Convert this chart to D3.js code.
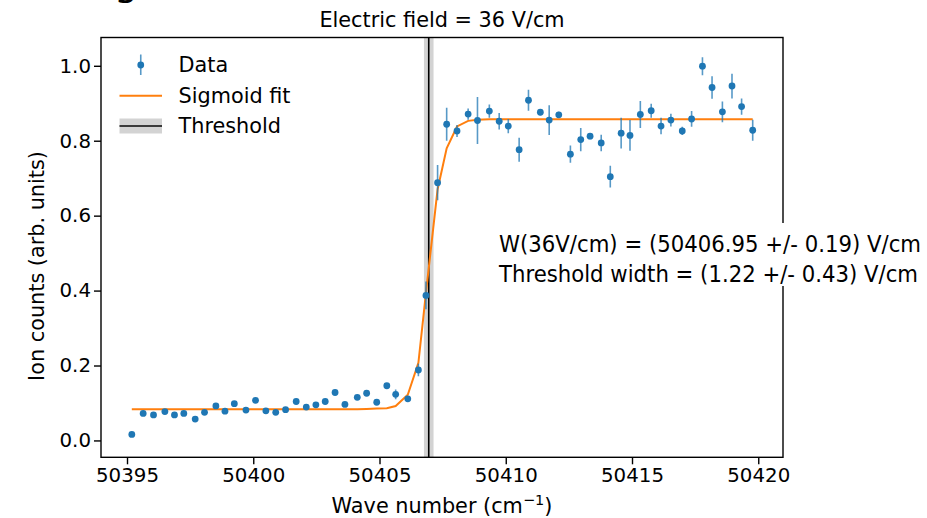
<!DOCTYPE html>
<html>
<head>
<meta charset="utf-8">
<script src="https://cdn.jsdelivr.net/npm/d3@7"></script>
<style>
  body { margin: 0; background: #fff; }
  svg text { font-family: "DejaVu Sans", sans-serif; }
</style>
</head>
<body>
<svg id="chart" width="927" height="518"></svg>
<script>
// Measured ion signal versus laser wave number
const waveNumbers = [
  50395.19, 50395.64, 50396.05, 50396.50, 50396.88, 50397.25, 50397.70, 50398.07,
  50398.52, 50398.88, 50399.25, 50399.71, 50400.09, 50400.50, 50400.89, 50401.28,
  50401.70, 50402.10, 50402.48, 50402.85, 50403.24, 50403.63, 50404.12, 50404.49,
  50404.89, 50405.29, 50405.64, 50406.12, 50406.54, 50406.84, 50407.30, 50407.66,
  50408.07, 50408.51, 50408.88, 50409.35, 50409.74, 50410.10, 50410.53, 50410.90,
  50411.37, 50411.72, 50412.10, 50412.56, 50412.97, 50413.34, 50413.78, 50414.14,
  50414.57, 50414.92, 50415.33, 50415.76, 50416.15, 50416.54, 50416.99, 50417.36,
  50417.79, 50418.17, 50418.58, 50418.96, 50419.34, 50419.78
];
const ionCounts = [
  0.016, 0.072, 0.068, 0.077, 0.068, 0.072, 0.057, 0.075,
  0.092, 0.078, 0.098, 0.081, 0.107, 0.079, 0.075, 0.082,
  0.104, 0.089, 0.095, 0.104, 0.128, 0.096, 0.115, 0.126,
  0.102, 0.146, 0.123, 0.111, 0.188, 0.387, 0.688, 0.844,
  0.826, 0.871, 0.854, 0.879, 0.852, 0.839, 0.776, 0.908,
  0.876, 0.855, 0.869, 0.764, 0.803, 0.812, 0.794, 0.704,
  0.820, 0.814, 0.870, 0.880, 0.839, 0.855, 0.826, 0.858,
  0.999, 0.942, 0.877, 0.946, 0.891, 0.828
];
const ionErrors = [
  0.006, 0.005, 0.006, 0.005, 0.006, 0.005, 0.006, 0.006,
  0.006, 0.005, 0.006, 0.006, 0.006, 0.005, 0.006, 0.006,
  0.006, 0.006, 0.006, 0.006, 0.007, 0.006, 0.006, 0.007,
  0.007, 0.007, 0.013, 0.008, 0.017, 0.037, 0.047, 0.044,
  0.016, 0.015, 0.063, 0.018, 0.022, 0.019, 0.032, 0.028,
  0.008, 0.040, 0.008, 0.023, 0.031, 0.008, 0.022, 0.029,
  0.041, 0.041, 0.036, 0.019, 0.022, 0.017, 0.011, 0.021,
  0.024, 0.030, 0.028, 0.033, 0.022, 0.028
];
// Sigmoid fit evaluated at each wave number
const fitValues = [
  0.083, 0.083, 0.083, 0.083, 0.083, 0.083, 0.083, 0.083,
  0.083, 0.083, 0.083, 0.083, 0.083, 0.083, 0.083, 0.083,
  0.083, 0.083, 0.083, 0.083, 0.083, 0.083, 0.083, 0.084,
  0.085, 0.086, 0.092, 0.122, 0.207, 0.394, 0.670, 0.780,
  0.838, 0.853, 0.856, 0.857, 0.857, 0.857, 0.857, 0.857,
  0.857, 0.857, 0.857, 0.857, 0.857, 0.857, 0.857, 0.857,
  0.857, 0.857, 0.857, 0.857, 0.857, 0.857, 0.857, 0.857,
  0.857, 0.857, 0.857, 0.857, 0.857, 0.857
];
const thresholdCenter = 50406.95;
const thresholdError = 0.19;
const thresholdWidth = 1.22;
const thresholdWidthError = 0.43;
const fieldStrength = 36;

const xTicks = [50395, 50400, 50405, 50410, 50415, 50420];
const yTicks = [0.0, 0.2, 0.4, 0.6, 0.8, 1.0];
const legendLabels = ["Data", "Sigmoid fit", "Threshold"];

const blue = "#1f77b4", orange = "#ff7f0e";
const labelSize = 20.8;
const svg = d3.select("#chart");
const plot = { left: 101, right: 783, top: 37.5, bottom: 457.3 };

const x = d3.scaleLinear().domain([50393.97, 50420.98]).range([plot.left, plot.right]);
const y = d3.scaleLinear().domain([-0.045, 1.0755]).range([plot.bottom, plot.top]);

// fragment of the figure heading that sits above the canvas
svg.append("text").attr("x", 114).attr("y", -5.5)
  .attr("font-size", 38).attr("fill", "#000").text("g");

const clipId = "plot-clip";
svg.append("clipPath").attr("id", clipId).append("rect")
  .attr("x", plot.left).attr("y", plot.top)
  .attr("width", plot.right - plot.left).attr("height", plot.bottom - plot.top);

const layer = svg.append("g").attr("clip-path", `url(#${clipId})`);

// threshold uncertainty band and centre line
layer.append("rect")
  .attr("x", x(thresholdCenter - thresholdError))
  .attr("width", x(thresholdCenter + thresholdError) - x(thresholdCenter - thresholdError))
  .attr("y", plot.top).attr("height", plot.bottom - plot.top)
  .attr("fill", "#d3d3d3");
layer.append("line")
  .attr("x1", x(thresholdCenter)).attr("x2", x(thresholdCenter))
  .attr("y1", plot.top).attr("y2", plot.bottom)
  .attr("stroke", "#000").attr("stroke-width", 1.6);

const points = waveNumbers.map((w, i) => ({ w, v: ionCounts[i], e: ionErrors[i], f: fitValues[i] }));

// fit curve
layer.append("path")
  .datum(points)
  .attr("fill", "none").attr("stroke", orange).attr("stroke-width", 2)
  .attr("d", d3.line().x(d => x(d.w)).y(d => y(d.f)));

// error bars and markers
layer.selectAll("line.err").data(points).join("line")
  .attr("class", "err")
  .attr("x1", d => x(d.w)).attr("x2", d => x(d.w))
  .attr("y1", d => y(d.v - d.e)).attr("y2", d => y(d.v + d.e))
  .attr("stroke", blue).attr("stroke-opacity", 0.75).attr("stroke-width", 1.6);
layer.selectAll("circle.pt").data(points).join("circle")
  .attr("class", "pt")
  .attr("cx", d => x(d.w)).attr("cy", d => y(d.v)).attr("r", 3.4)
  .attr("fill", blue);

// axes
const xAxis = d3.axisBottom(x).tickValues(xTicks).tickFormat(d3.format("d"))
  .tickSize(7).tickPadding(4).tickSizeOuter(0);
const yAxis = d3.axisLeft(y).tickValues(yTicks).tickFormat(d3.format(".1f"))
  .tickSize(7).tickPadding(3).tickSizeOuter(0);

const gx = svg.append("g").attr("transform", `translate(0,${plot.bottom})`).call(xAxis);
const gy = svg.append("g").attr("transform", `translate(${plot.left},0)`).call(yAxis);
[gx, gy].forEach(g => {
  g.select(".domain").remove();
  g.selectAll(".tick line").attr("stroke", "#000").attr("stroke-width", 1.4);
  g.selectAll(".tick text").attr("font-size", 19.8).attr("fill", "#000")
    .attr("font-family", "DejaVu Sans, sans-serif");
});

svg.append("rect")
  .attr("x", plot.left).attr("y", plot.top)
  .attr("width", plot.right - plot.left).attr("height", plot.bottom - plot.top)
  .attr("fill", "none").attr("stroke", "#000").attr("stroke-width", 1.4);

// titles and labels
svg.append("text")
  .attr("x", (plot.left + plot.right) / 2).attr("y", 27.3)
  .attr("text-anchor", "middle").attr("font-size", labelSize).attr("fill", "#000")
  .text(`Electric field = ${fieldStrength} V/cm`);

const xl = svg.append("text")
  .attr("x", (plot.left + plot.right) / 2).attr("y", 513)
  .attr("text-anchor", "middle").attr("font-size", labelSize).attr("fill", "#000");
xl.append("tspan").text("Wave number (cm");
xl.append("tspan").attr("font-size", 14.5).attr("dy", -8).text("\u22121");
xl.append("tspan").attr("dy", 8).text(")");

svg.append("text")
  .attr("transform", `translate(44,266) rotate(-90)`)
  .attr("text-anchor", "middle").attr("font-size", labelSize).attr("fill", "#000")
  .text("Ion counts (arb. units)");

// legend
const legend = svg.append("g");
const rows = [65, 95.7, 126];
const lx0 = 119.5, lx1 = 162;
legend.append("line")
  .attr("x1", (lx0 + lx1) / 2).attr("x2", (lx0 + lx1) / 2)
  .attr("y1", rows[0] - 10.5).attr("y2", rows[0] + 10)
  .attr("stroke", blue).attr("stroke-opacity", 0.75).attr("stroke-width", 1.6);
legend.append("circle")
  .attr("cx", (lx0 + lx1) / 2).attr("cy", rows[0]).attr("r", 3.4).attr("fill", blue);
legend.append("line")
  .attr("x1", lx0).attr("x2", lx1).attr("y1", rows[1]).attr("y2", rows[1])
  .attr("stroke", orange).attr("stroke-width", 2);
legend.append("rect")
  .attr("x", lx0).attr("y", rows[2] - 7.5).attr("width", lx1 - lx0).attr("height", 15)
  .attr("fill", "#d3d3d3");
legend.append("line")
  .attr("x1", lx0).attr("x2", lx1).attr("y1", rows[2]).attr("y2", rows[2])
  .attr("stroke", "#3a3a3a").attr("stroke-width", 2);
legend.selectAll("text.lg").data(legendLabels).join("text")
  .attr("class", "lg")
  .attr("x", 178.5).attr("y", (d, i) => rows[i]).attr("dy", "0.36em")
  .attr("font-size", labelSize).attr("fill", "#000")
  .text(d => d);

// fit result annotation
const note = svg.append("g");
note.append("rect").attr("x", 492).attr("y", 223).attr("width", 435).attr("height", 63)
  .attr("fill", "#fff");
const noteLines = [
  `W(${fieldStrength}V/cm) = (${thresholdCenter.toFixed(2)} +/- ${thresholdError.toFixed(2)}) V/cm`,
  `Threshold width = (${thresholdWidth.toFixed(2)} +/- ${thresholdWidthError.toFixed(2)}) V/cm`
];
const noteWidths = [422, 419];
note.selectAll("text").data(noteLines).join("text")
  .attr("x", 499).attr("y", (d, i) => 251.7 + i * 30)
  .attr("font-family", "Lato, 'Open Sans', sans-serif")
  .attr("font-size", 23).attr("fill", "#000")
  .attr("textLength", (d, i) => noteWidths[i]).attr("lengthAdjust", "spacingAndGlyphs")
  .text(d => d);
</script>
</body>
</html>
